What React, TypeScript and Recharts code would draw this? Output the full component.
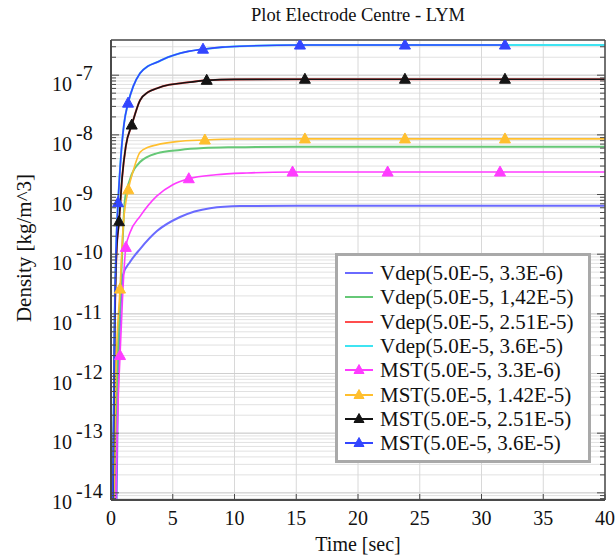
import React from 'react';
import {
  ComposedChart,
  Line,
  Scatter,
  XAxis,
  YAxis,
  CartesianGrid,
  ReferenceLine,
  Legend,
  Label,
} from 'recharts';

const FONT = '"Liberation Serif", "Times New Roman", Times, serif';

// ---- Vdep model: density [kg/m^3] over time [s] ----
const vdep33Time = [0.4, 0.55, 0.75, 0.97, 1.54, 2.35, 3.72, 5.59, 8.02, 10.45, 15, 40];
const vdep33Density = [1e-15, 3.2e-13, 8.6e-12, 4.5e-11, 7.4e-11, 1.22e-10, 2.44e-10, 4.2e-10, 5.9e-10, 6.4e-10, 6.5e-10, 6.5e-10];

const vdep142Time = [0.2, 0.5, 0.8, 1.13, 1.5, 2.35, 3.7, 5.6, 7.5, 10, 15, 40];
const vdep142Density = [1e-15, 1.1e-12, 3.2e-11, 8.2e-10, 1.7e-9, 3.5e-9, 4.9e-9, 5.6e-9, 6.0e-9, 6.2e-9, 6.35e-9, 6.35e-9];

const vdep251Time = [0.12, 0.3, 0.45, 0.65, 0.9, 1.2, 1.68, 2.35, 3.0, 3.7, 4.7, 5.8, 7.75, 10, 15, 40];
const vdep251Density = [1e-15, 5.4e-12, 1.1e-10, 3.5e-10, 1.9e-9, 6.5e-9, 1.46e-8, 3.8e-8, 5.2e-8, 6.0e-8, 6.9e-8, 7.4e-8, 8.2e-8, 8.5e-8, 8.55e-8, 8.55e-8];

const vdep36Time = [0.1, 0.3, 0.45, 0.57, 0.8, 1.05, 1.38, 1.8, 2.35, 3.0, 3.72, 4.6, 5.59, 7.45, 9, 10.45, 15, 40];
const vdep36Density = [1e-15, 1.1e-11, 2.2e-10, 7.3e-10, 4.3e-9, 1.5e-8, 3.4e-8, 6.5e-8, 1.08e-7, 1.42e-7, 1.65e-7, 2.0e-7, 2.34e-7, 2.73e-7, 2.95e-7, 3.06e-7, 3.2e-7, 3.2e-7];

// ---- MST model: density [kg/m^3] over time [s], with the marked samples ----
const mst33Time = [0.3, 0.5, 0.73, 0.95, 1.2, 1.54, 2.35, 3.7, 5.0, 6.3, 8.5, 11, 14.7, 22.4, 31.5, 40];
const mst33Density = [1e-15, 1.1e-13, 2.0e-12, 2.2e-11, 1.3e-10, 2.3e-10, 4.3e-10, 9.4e-10, 1.46e-9, 1.84e-9, 2.15e-9, 2.3e-9, 2.38e-9, 2.38e-9, 2.38e-9, 2.38e-9];
const mst33Marks = [0.73, 1.2, 6.3, 14.7, 22.4, 31.5];

const mst142Time = [0.15, 0.4, 0.73, 1.0, 1.4, 1.8, 2.35, 3.0, 3.7, 5.3, 7.6, 10, 15.7, 23.8, 31.9, 40];
const mst142Density = [1e-15, 1.1e-12, 2.6e-11, 3.2e-10, 1.2e-9, 2.5e-9, 5.1e-9, 6.2e-9, 6.8e-9, 7.7e-9, 8.2e-9, 8.5e-9, 8.55e-9, 8.55e-9, 8.55e-9, 8.55e-9];
const mst142Marks = [0.73, 1.4, 7.6, 15.7, 23.8, 31.9];

const mst251Time = [0.12, 0.3, 0.45, 0.65, 0.9, 1.2, 1.68, 2.35, 3.0, 3.7, 4.7, 5.8, 7.75, 10, 15.7, 23.8, 31.9, 40];
const mst251Density = [1e-15, 5.4e-12, 1.1e-10, 3.5e-10, 1.9e-9, 6.5e-9, 1.46e-8, 3.8e-8, 5.2e-8, 6.0e-8, 6.9e-8, 7.4e-8, 8.2e-8, 8.5e-8, 8.55e-8, 8.55e-8, 8.55e-8, 8.55e-8];
const mst251Marks = [0.65, 1.68, 7.75, 15.7, 23.8, 31.9];

const mst36Time = [0.1, 0.3, 0.45, 0.57, 0.8, 1.05, 1.38, 1.8, 2.35, 3.0, 3.72, 4.6, 5.59, 7.45, 9, 10.45, 15.3, 23.8, 31.9];
const mst36Density = [1e-15, 1.1e-11, 2.2e-10, 7.3e-10, 4.3e-9, 1.5e-8, 3.4e-8, 6.5e-8, 1.08e-7, 1.42e-7, 1.65e-7, 2.0e-7, 2.34e-7, 2.73e-7, 2.95e-7, 3.06e-7, 3.2e-7, 3.2e-7, 3.2e-7];
const mst36Marks = [0.57, 1.38, 7.45, 15.3, 23.8, 31.9];

// ---- axes ----
const timeTicks = [0, 5, 10, 15, 20, 25, 30, 35, 40];
const decadeExponents = [-14, -13, -12, -11, -10, -9, -8, -7];
const minorMantissas = [2, 3, 4, 5, 6, 7, 8, 9];
const densityDomain = [Math.pow(10, -14.12), Math.pow(10, -6.41)];

type Pt = { t: number; v: number };
const zip = (t: number[], v: number[]): Pt[] => t.map((x, i) => ({ t: x, v: v[i] }));
const pick = (pts: Pt[], marks: number[]) => pts.filter((p) => marks.includes(p.t));

const vdepSeries = [
  { name: 'Vdep(5.0E-5, 3.3E-6)', color: '#6a6aff', data: zip(vdep33Time, vdep33Density) },
  { name: 'Vdep(5.0E-5, 1,42E-5)', color: '#66c877', data: zip(vdep142Time, vdep142Density) },
  { name: 'Vdep(5.0E-5, 2.51E-5)', color: '#ff4d4d', data: zip(vdep251Time, vdep251Density) },
  { name: 'Vdep(5.0E-5, 3.6E-5)', color: '#3fe4f2', data: zip(vdep36Time, vdep36Density) },
];

const mstSeries = [
  { name: 'MST(5.0E-5, 3.3E-6)', color: '#ff3cff', data: zip(mst33Time, mst33Density), marks: mst33Marks },
  { name: 'MST(5.0E-5, 1.42E-5)', color: '#ffbf2e', data: zip(mst142Time, mst142Density), marks: mst142Marks },
  { name: 'MST(5.0E-5, 2.51E-5)', color: '#141414', data: zip(mst251Time, mst251Density), marks: mst251Marks },
  { name: 'MST(5.0E-5, 3.6E-5)', color: '#3346ff', data: zip(mst36Time, mst36Density), marks: mst36Marks },
];

const densityTicks: number[] = [];
for (const e of [-15, ...decadeExponents]) {
  for (const m of [1, ...minorMantissas]) {
    const v = m * Math.pow(10, e);
    if (v >= densityDomain[0] && v <= densityDomain[1]) densityTicks.push(v);
  }
}

const isDecade = (v: number) => {
  const e = Math.round(Math.log10(v));
  return Math.abs(v / Math.pow(10, e) - 1) < 1e-6;
};

const AXIS = '#4a4a4a';

const LeftTick = (props: any) => {
  const { x, y, payload } = props;
  const v = payload.value;
  const major = isDecade(v);
  const e = Math.round(Math.log10(v));
  return (
    <g>
      <line x1={x} x2={x + (major ? 8 : 5)} y1={y} y2={y} stroke={AXIS} strokeWidth={1} />
      {major && (
        <>
          <text x={x - 39} y={y + 16} textAnchor="end" fontFamily={FONT} fontSize={20} fill="#111">
            10
          </text>
          <text x={x - 35} y={y + 5} textAnchor="start" fontFamily={FONT} fontSize={20} fill="#111">
            {`${e}`}
          </text>
        </>
      )}
    </g>
  );
};

const RightTick = (props: any) => {
  const { x, y, payload } = props;
  const major = isDecade(payload.value);
  return <line x1={x} x2={x - (major ? 8 : 5)} y1={y} y2={y} stroke={AXIS} strokeWidth={1} />;
};

const BottomTick = (props: any) => {
  const { x, y, payload } = props;
  return (
    <g>
      <line x1={x} x2={x} y1={y} y2={y - 6} stroke={AXIS} strokeWidth={1} />
      <text x={x} y={y + 25} textAnchor="middle" fontFamily={FONT} fontSize={20} fill="#111">
        {payload.value}
      </text>
    </g>
  );
};

const TopTick = (props: any) => {
  const { x, y } = props;
  return <line x1={x} x2={x} y1={y} y2={y + 6} stroke={AXIS} strokeWidth={1} />;
};

const Triangle = (props: any) => {
  const { cx, cy, fill } = props;
  if (cx == null || cy == null) return null;
  return (
    <polygon
      points={`${cx},${cy - 6} ${cx - 5.5},${cy + 4} ${cx + 5.5},${cy + 4}`}
      fill={fill}
      stroke={fill}
      strokeWidth={1}
      strokeLinejoin="round"
    />
  );
};

const legendItems = [
  ...vdepSeries.map((s) => ({ name: s.name, color: s.color, marker: false })),
  ...mstSeries.map((s) => ({ name: s.name, color: s.color, marker: true })),
];

const LegendBox = () => (
  <div
    style={{
      border: '3px solid #a9a9a9',
      background: '#fff',
      padding: '5px 0 5px 7px',
      width: 256,
      boxSizing: 'border-box',
    }}
  >
    {legendItems.map((item) => (
      <div key={item.name} style={{ display: 'flex', alignItems: 'center', height: 24.3 }}>
        <svg width={28} height={14} style={{ flex: 'none' }}>
          <line x1={0} x2={28} y1={7} y2={7} stroke={item.color} strokeWidth={2} />
          {item.marker && <polygon points="14,1.5 9,10.5 19,10.5" fill={item.color} stroke={item.color} />}
        </svg>
        <span
          style={{
            marginLeft: 7,
            fontFamily: FONT,
            fontSize: 21,
            lineHeight: '24px',
            color: '#111',
            whiteSpace: 'nowrap',
          }}
        >
          {item.name}
        </span>
      </div>
    ))}
  </div>
);

const TitleLabel = (props: any) => {
  const vb = props.viewBox || { x: 111, y: 39, width: 494 };
  return (
    <text x={vb.x + vb.width / 2} y={vb.y - 18} textAnchor="middle" fontFamily={FONT} fontSize={18.5} fill="#111">
      Plot Electrode Centre - LYM
    </text>
  );
};

const DensityLabel = (props: any) => {
  const vb = props.viewBox || { x: 0, y: 40, width: 111, height: 460 };
  const cx = vb.x + 24;
  const cy = vb.y + vb.height / 2 - 22;
  return (
    <text
      x={cx}
      y={cy}
      transform={`rotate(-90, ${cx}, ${cy})`}
      textAnchor="middle"
      dominantBaseline="central"
      fontFamily={FONT}
      fontSize={21}
      fill="#111"
    >
      Density [kg/m^3]
    </text>
  );
};

const TimeLabel = (props: any) => {
  const vb = props.viewBox || { x: 111, y: 500, width: 494 };
  return (
    <text x={vb.x + vb.width / 2} y={vb.y + 51} textAnchor="middle" fontFamily={FONT} fontSize={20} fill="#111">
      Time [sec]
    </text>
  );
};

export default function App() {
  return (
    <div style={{ position: 'absolute', left: 0, top: 0, background: '#fff' }}>
      <ComposedChart width={616} height={557} margin={{ top: 39, right: 10, bottom: 0, left: 0 }}>
        <XAxis
          xAxisId="bottom"
          dataKey="t"
          type="number"
          domain={[0, 40]}
          ticks={timeTicks}
          interval={0}
          height={57}
          tickSize={0}
          tickMargin={0}
          tickLine={false}
          tick={<BottomTick />}
          axisLine={{ stroke: AXIS, strokeWidth: 2 }}
          allowDataOverflow
        >
          <Label content={<TimeLabel />} />
        </XAxis>
        <XAxis
          xAxisId="top"
          orientation="top"
          type="number"
          domain={[0, 40]}
          ticks={timeTicks}
          interval={0}
          height={1}
          tickSize={0}
          tickMargin={0}
          tickLine={false}
          tick={<TopTick />}
          axisLine={{ stroke: AXIS, strokeWidth: 1.5 }}
          allowDataOverflow
        >
          <Label content={<TitleLabel />} />
        </XAxis>
        <YAxis
          yAxisId="left"
          dataKey="v"
          scale="log"
          domain={densityDomain}
          ticks={densityTicks}
          interval={0}
          width={111}
          tickSize={0}
          tickMargin={0}
          tickLine={false}
          tick={<LeftTick />}
          axisLine={{ stroke: AXIS, strokeWidth: 2 }}
          allowDataOverflow
        >
          <Label content={<DensityLabel />} />
        </YAxis>
        <YAxis
          yAxisId="right"
          orientation="right"
          scale="log"
          domain={densityDomain}
          ticks={densityTicks}
          interval={0}
          width={1}
          tickSize={0}
          tickMargin={0}
          tickLine={false}
          tick={<RightTick />}
          axisLine={{ stroke: AXIS, strokeWidth: 1.5 }}
          allowDataOverflow
        />
        <CartesianGrid xAxisId="bottom" yAxisId="left" vertical={false} stroke="#e1e1e1" strokeWidth={1} />
        <CartesianGrid xAxisId="bottom" yAxisId="left" horizontal={false} stroke="#d8d8d8" strokeWidth={1} />
        {decadeExponents.map((e) => (
          <ReferenceLine
            key={e}
            xAxisId="bottom"
            yAxisId="left"
            y={Math.pow(10, e)}
            stroke="#cfcfcf"
            strokeWidth={1}
          />
        ))}
        {vdepSeries.map((s) => (
          <Line
            key={s.name}
            xAxisId="bottom"
            yAxisId="left"
            data={s.data}
            dataKey="v"
            name={s.name}
            type="monotone"
            stroke={s.color}
            strokeWidth={2}
            dot={false}
            activeDot={false}
            isAnimationActive={false}
          />
        ))}
        {mstSeries.map((s) => (
          <Line
            key={s.name}
            xAxisId="bottom"
            yAxisId="left"
            data={s.data}
            dataKey="v"
            name={s.name}
            type="monotone"
            stroke={s.color}
            strokeWidth={1.6}
            dot={false}
            activeDot={false}
            isAnimationActive={false}
          />
        ))}
        {mstSeries.map((s) => (
          <Scatter
            key={s.name + '-marks'}
            xAxisId="bottom"
            yAxisId="left"
            data={pick(s.data, s.marks)}
            dataKey="v"
            name={s.name + ' marks'}
            fill={s.color}
            shape={<Triangle />}
            isAnimationActive={false}
          />
        ))}
        <Legend
          layout="vertical"
          align="center"
          verticalAlign="middle"
          content={<LegendBox />}
          wrapperStyle={{ position: 'absolute', left: 335, top: 253, width: 256, height: 210 }}
        />
      </ComposedChart>
    </div>
  );
}
